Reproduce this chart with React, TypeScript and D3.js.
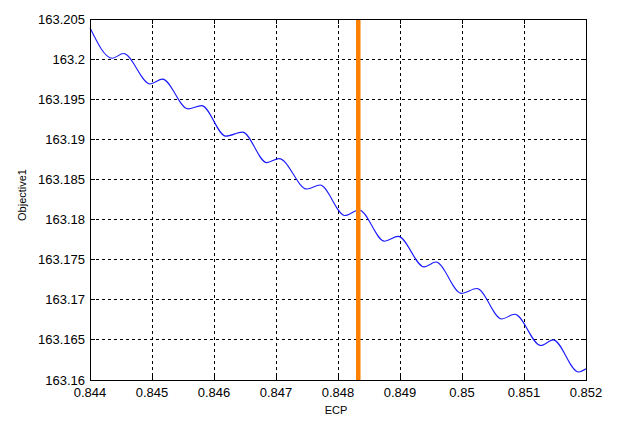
import React from "react";
import * as d3 from "d3";

const xTicks = [0.844, 0.845, 0.846, 0.847, 0.848, 0.849, 0.85, 0.851, 0.852];
const xTickLabels = ["0.844", "0.845", "0.846", "0.847", "0.848", "0.849", "0.85", "0.851", "0.852"];
const yTicks = [163.16, 163.165, 163.17, 163.175, 163.18, 163.185, 163.19, 163.195, 163.2, 163.205];
const yTickLabels = ["163.16", "163.165", "163.17", "163.175", "163.18", "163.185", "163.19", "163.195", "163.2", "163.205"];

const ecp = [
  0.844, 0.84436, 0.84454, 0.84497, 0.84517, 0.84558, 0.8458, 0.84619, 0.84646,
  0.84685, 0.84705, 0.8475, 0.84771, 0.84811, 0.84834, 0.84875, 0.84897, 0.84939,
  0.84958, 0.84999, 0.85024, 0.85064, 0.85085, 0.85127, 0.85147, 0.85188, 0.852,
];
const objective1 = [
  163.2039, 163.2001, 163.2007, 163.1969, 163.1975, 163.1938, 163.1942, 163.1904, 163.1909,
  163.1871, 163.1876, 163.1838, 163.1843, 163.1805, 163.1812, 163.1773, 163.1779, 163.1741,
  163.1747, 163.1708, 163.1714, 163.1676, 163.1682, 163.1643, 163.165, 163.161, 163.1614,
];
const markerEcp = 0.848327;

const W = 631, H = 422;
const L = 90, R = 586, T = 19, B = 380;

export default function App() {
  const x = d3.scaleLinear().domain([0.844, 0.852]).range([L, R]);
  const y = d3.scaleLinear().domain([163.16, 163.205]).range([B, T]);
  const pts: [number, number][] = ecp.map((e, i) => [e, objective1[i]]);
  const line = d3
    .line<[number, number]>()
    .x((d) => x(d[0]))
    .y((d) => y(d[1]))
    .curve(d3.curveMonotoneX);
  const font = "'Liberation Sans', Arial, sans-serif";
  return (
    <svg width={W} height={H} style={{ position: "absolute", left: 0, top: 0, background: "#fff" }}>
      <rect x={0} y={0} width={W} height={H} fill="#fff" />
      <g shapeRendering="crispEdges">
        {xTicks.slice(1, -1).map((t) => (
          <line key={"gx" + t} x1={x(t)} x2={x(t)} y1={T} y2={B} stroke="#000" strokeWidth={1} strokeDasharray="3,3" />
        ))}
        {yTicks.slice(1, -1).map((t) => (
          <line key={"gy" + t} x1={L} x2={R} y1={y(t)} y2={y(t)} stroke="#000" strokeWidth={1} strokeDasharray="3,3" />
        ))}
        {xTicks.map((t) => (
          <g key={"tx" + t}>
            <line x1={x(t)} x2={x(t)} y1={B} y2={B - 5} stroke="#000" />
            <line x1={x(t)} x2={x(t)} y1={T} y2={T + 5} stroke="#000" />
          </g>
        ))}
        {yTicks.map((t) => (
          <g key={"ty" + t}>
            <line x1={L} x2={L + 5} y1={y(t)} y2={y(t)} stroke="#000" />
            <line x1={R} x2={R - 5} y1={y(t)} y2={y(t)} stroke="#000" />
          </g>
        ))}
      </g>
      <path d={line(pts) || ""} fill="none" stroke="#1a1aff" strokeWidth={1.1} />
      <line x1={x(markerEcp)} x2={x(markerEcp)} y1={T} y2={B} stroke="#ff8000" strokeWidth={4.5} />
      <rect x={L} y={T} width={R - L} height={B - T} fill="none" stroke="#000" strokeWidth={1} shapeRendering="crispEdges" />
      {xTicks.map((t, i) => (
        <text key={"lx" + t} x={x(t)} y={397} textAnchor="middle" fontFamily={font} fontSize={13} fill="#000">
          {xTickLabels[i]}
        </text>
      ))}
      {yTicks.map((t, i) => (
        <text key={"ly" + t} x={85} y={y(t)} dy="0.35em" textAnchor="end" fontFamily={font} fontSize={13} fill="#000">
          {yTickLabels[i]}
        </text>
      ))}
      <text x={336} y={414} textAnchor="middle" fontFamily={font} fontSize={11} fill="#000">ECP</text>
      <text transform="translate(26,195) rotate(-90)" textAnchor="middle" fontFamily={font} fontSize={11} fill="#000">Objective1</text>
    </svg>
  );
}
